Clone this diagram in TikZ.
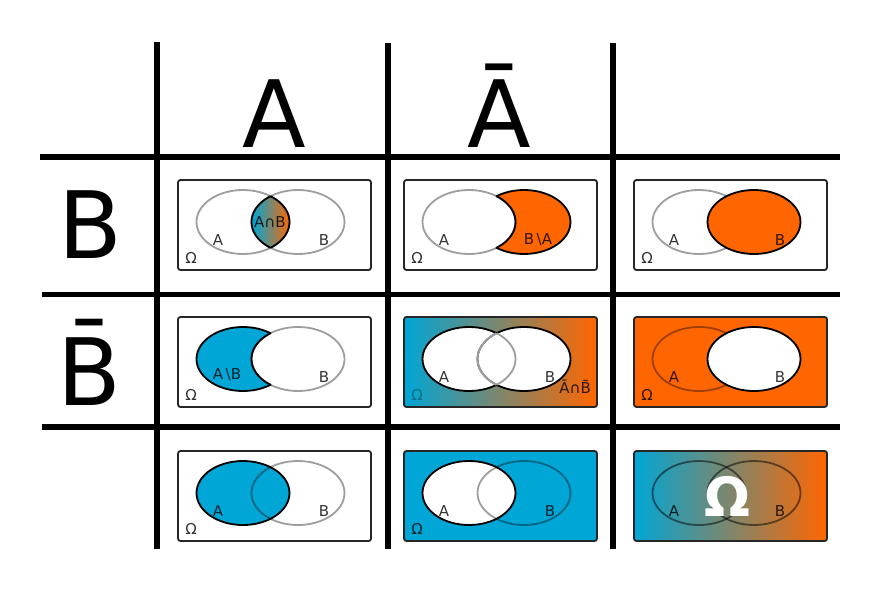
\documentclass[tikz,border=0pt]{standalone}
\usepackage{fontspec}
\setmainfont{DejaVu Sans}
\definecolor{setblue}{RGB}{0,166,214}
\definecolor{setorange}{RGB}{255,102,0}
\tikzset{
  gridline/.style={line width=5.5pt},
  cellframe/.style={draw=black!85,line width=1.8pt,rounded corners=2.5pt},
  dark/.style={draw=black,line width=1.8pt},
  pale/.style={draw=black,draw opacity=0.38,line width=1.8pt},
  lbl/.style={font=\fontsize{15}{15}\selectfont,text=black,text opacity=0.8,inner sep=0pt},
  headlbl/.style={font=\fontsize{93}{93}\selectfont,anchor=base,inner sep=0pt}
}
\newcommand{\ringA}{(65,42) ellipse [x radius=46.5pt,y radius=32pt]}
\newcommand{\ringB}{(120,42) ellipse [x radius=46.5pt,y radius=32pt]}
\newcommand{\cellrect}{(0,0) rectangle (193,90)}

\begin{document}
\begin{tikzpicture}[x=1pt,y=-1pt]
    \fill[white] (0,0) rectangle (880,591);

    \draw[gridline] (40,157) -- (840,157);
    \draw[gridline] (42,294.5) -- (840,294.5);
    \draw[gridline] (42,427) -- (840,427);
    \draw[gridline] (157,42) -- (157,549);
    \draw[gridline] (388,43) -- (388,549);
    \draw[gridline] (613,43) -- (613,549);

    \node[headlbl] (hA) at (274,147) {A};
    \node[headlbl] (hAbar) at (499,147) {Ā};
    \node[headlbl] (hB) at (90,258) {B};
    \node[headlbl] (hBbar) at (89,405) {B̄};

    \begin{scope}[shift={(178,180)}]
        \draw[cellframe,fill=white] \cellrect;
        \draw[pale] \ringA;
        \draw[pale] \ringB;
        \begin{scope}
            \clip \ringA; \clip \ringB;
            \shade[left color=setblue,right color=setorange] (74,0) rectangle (112,90);
        \end{scope}
        \begin{scope} \clip \ringA; \draw[dark] \ringB; \end{scope}
        \begin{scope} \clip \ringB; \draw[dark] \ringA; \end{scope}
        \node[lbl] (ab11) at (92,42) {A∩B};
        \node[lbl] (a11) at (40,60) {A};
        \node[lbl] (b11) at (146,60) {B};
        \node[lbl] (o11) at (13,78) {Ω};
    \end{scope}

    \begin{scope}[shift={(404,180)}]
        \draw[cellframe,fill=white] \cellrect;
        \filldraw[dark,fill=setorange] \ringB;
        \fill[white] \ringA;
        \draw[pale] \ringA;
        \begin{scope} \clip \ringB; \draw[dark] \ringA; \end{scope}
        \node[lbl] (a12) at (40,60) {A};
        \node[lbl] (ba12) at (134,60) {B\,\textbackslash A};
        \node[lbl] (o12) at (13,78) {Ω};
    \end{scope}

    \begin{scope}[shift={(634,180)}]
        \draw[cellframe,fill=white] \cellrect;
        \draw[pale] \ringA;
        \filldraw[dark,fill=setorange] \ringB;
        \node[lbl] (a13) at (40,60) {A};
        \node[lbl] (b13) at (146,60) {B};
        \node[lbl] (o13) at (13,78) {Ω};
    \end{scope}

    \begin{scope}[shift={(178,317)}]
        \draw[cellframe,fill=white] \cellrect;
        \filldraw[dark,fill=setblue] \ringA;
        \fill[white] \ringB;
        \draw[pale] \ringB;
        \begin{scope} \clip \ringA; \draw[dark] \ringB; \end{scope}
        \node[lbl] (ab21) at (49,58) {A\,\textbackslash B};
        \node[lbl] (b21) at (146,60) {B};
        \node[lbl] (o21) at (13,78) {Ω};
    \end{scope}

    \begin{scope}[shift={(404,317)}]
        \shadedraw[cellframe,left color=setblue,right color=setorange] \cellrect;
        \filldraw[dark,fill=white] \ringA;
        \filldraw[dark,fill=white] \ringB;
        \begin{scope} \clip \ringA; \draw[line width=1.8pt,white] \ringB; \draw[pale] \ringB; \end{scope}
        \begin{scope} \clip \ringB; \draw[line width=1.8pt,white] \ringA; \draw[pale] \ringA; \end{scope}
        \node[lbl] (a22) at (40,60) {A};
        \node[lbl] (b22) at (146,60) {B};
        \node[lbl,text opacity=0.3] (o22) at (13,78) {Ω};
        \node[lbl,anchor=east] (nab22) at (187,70) {Ā∩B̄};
    \end{scope}

    \begin{scope}[shift={(634,317)}]
        \filldraw[cellframe,fill=setorange] \cellrect;
        \draw[pale] \ringA;
        \filldraw[dark,fill=white] \ringB;
        \node[lbl] (a23) at (40,60) {A};
        \node[lbl] (b23) at (146,60) {B};
        \node[lbl] (o23) at (13,78) {Ω};
    \end{scope}

    \begin{scope}[shift={(178,451)}]
        \draw[cellframe,fill=white] \cellrect;
        \filldraw[dark,fill=setblue] \ringA;
        \draw[pale] \ringB;
        \node[lbl] (a31) at (40,60) {A};
        \node[lbl] (b31) at (146,60) {B};
        \node[lbl] (o31) at (13,78) {Ω};
    \end{scope}

    \begin{scope}[shift={(404,451)}]
        \filldraw[cellframe,fill=setblue] \cellrect;
        \filldraw[dark,fill=white] \ringA;
        \draw[pale] \ringB;
        \node[lbl] (a32) at (40,60) {A};
        \node[lbl] (b32) at (146,60) {B};
        \node[lbl] (o32) at (13,78) {Ω};
    \end{scope}

    \begin{scope}[shift={(634,451)}]
        \shadedraw[cellframe,left color=setblue,right color=setorange] \cellrect;
        \draw[pale,draw opacity=0.5] \ringA;
        \draw[pale,draw opacity=0.5] \ringB;
        \node[font=\fontsize{54}{54}\bfseries\selectfont,text=white,inner sep=0pt] (omega) at (93,45.5) {Ω};
        \node[lbl] (a33) at (40,60) {A};
        \node[lbl] (b33) at (146,60) {B};
    \end{scope}
\end{tikzpicture}
\end{document}
